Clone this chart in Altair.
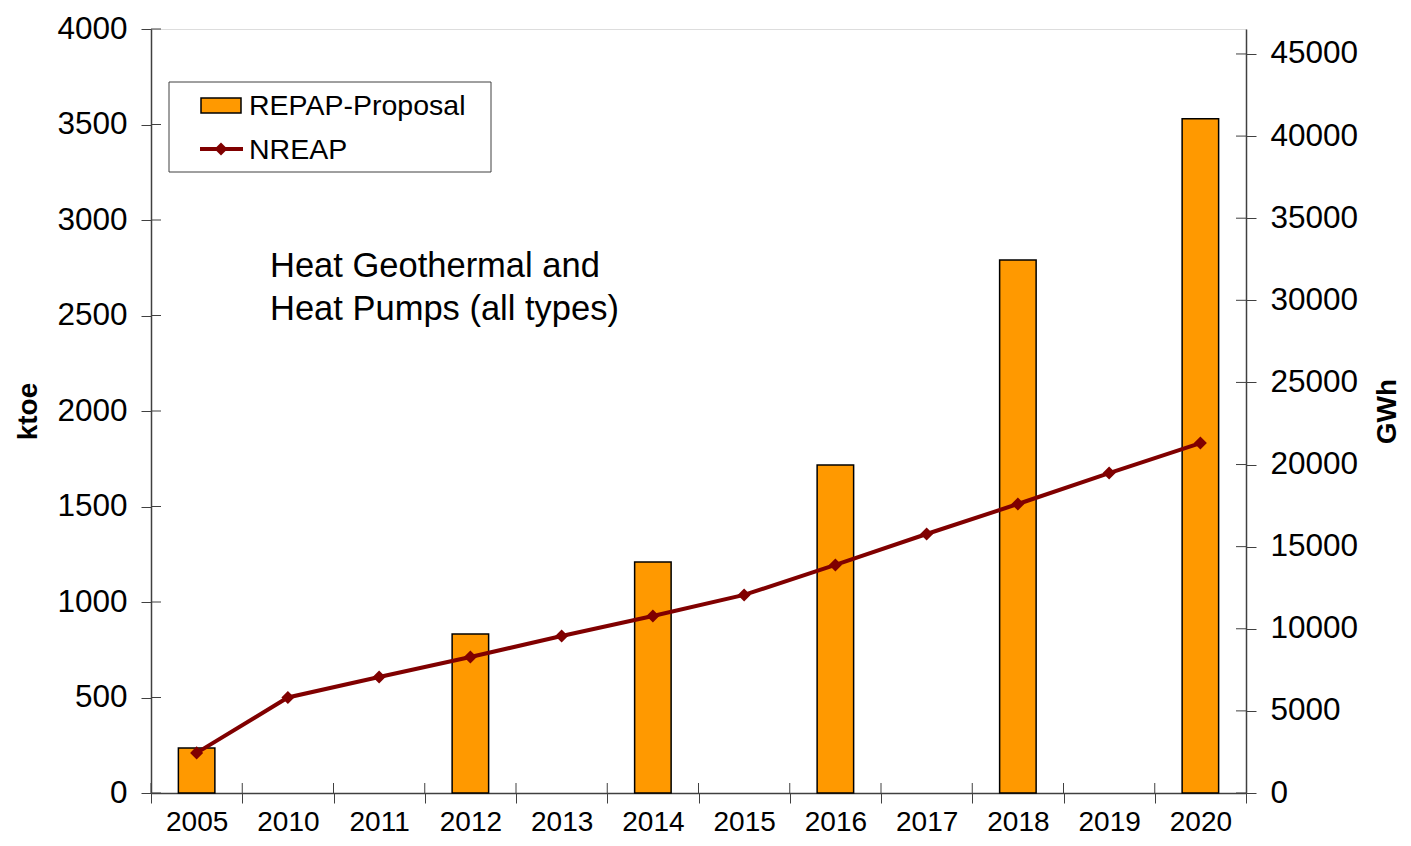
import altair as alt
import pandas as pd

# ---- data ----
years = ["2005", "2010", "2011", "2012", "2013", "2014", "2015", "2016", "2017", "2018", "2019", "2020"]
nreap_ktoe = [210, 500, 607, 712, 822, 927, 1037, 1194, 1356, 1513, 1675, 1832]
bar_years = ["2005", "2012", "2014", "2016", "2018", "2020"]
repap_ktoe = [236, 832, 1210, 1717, 2790, 3530]
left_ticks = [0, 500, 1000, 1500, 2000, 2500, 3000, 3500, 4000]
right_ticks = [0, 5000, 10000, 15000, 20000, 25000, 30000, 35000, 40000, 45000]
KTOE_TO_GWH = 11.63

bar_df = pd.DataFrame({"year": bar_years, "ktoe": repap_ktoe})
line_df = pd.DataFrame({"year": years, "ktoe": nreap_ktoe})
lt_df = pd.DataFrame({"v": left_ticks})
rt_df = pd.DataFrame({"v": right_ticks})
yr_df = pd.DataFrame({"year": years})
one = pd.DataFrame({"k": [0]})

FONT = "Liberation Sans"
ORANGE = "#FF9900"
MAROON = "#800000"
AX = "#404040"
W, H = 1095, 764

xscale = alt.Scale(domain=years, paddingInner=0, paddingOuter=0)
xaxis = alt.Axis(title=None, tickBand="extent", labelAngle=0, labelFontSize=28,
                 labelColor="black", labelFont=FONT, tickSize=10, tickColor=AX,
                 domainColor=AX, domainWidth=1.5, labelPadding=5, grid=False)
yscale = alt.Scale(domain=[0, 4000], nice=False, zero=True)
yaxis = alt.Axis(title="ktoe", values=left_ticks, format="d", labelFontSize=31.5,
                 labelFont=FONT, labelColor="black", tickSize=10, tickColor=AX,
                 domainColor=AX, domainWidth=1.5, labelPadding=14, grid=False,
                 titleFont=FONT, titleFontSize=28, titleFontWeight="bold", titleColor="black",
                 titlePadding=14)

bars = alt.Chart(bar_df).mark_bar(
    color=ORANGE, stroke="black", strokeWidth=1.5, width=alt.RelativeBandSize(0.4)
).encode(
    x=alt.X("year:N", scale=xscale, axis=xaxis),
    y=alt.Y("ktoe:Q", scale=yscale, axis=yaxis),
)

line = alt.Chart(line_df).mark_line(color=MAROON, strokeWidth=4).encode(
    x=alt.X("year:N", scale=xscale),
    y=alt.Y("ktoe:Q", scale=yscale),
)
points = alt.Chart(line_df).mark_point(
    shape="diamond", filled=True, color=MAROON, size=170, opacity=1
).encode(
    x=alt.X("year:N", scale=xscale),
    y=alt.Y("ktoe:Q", scale=yscale),
)

# inner halves of the crossing axis ticks
lt_in = alt.Chart(lt_df).mark_rule(color=AX, strokeWidth=1).encode(
    y=alt.Y("v:Q", scale=yscale), x=alt.value(0), x2=alt.value(10))
xt_in = alt.Chart(yr_df).mark_rule(color=AX, strokeWidth=1).encode(
    x=alt.X("year:N", scale=xscale, bandPosition=0), y=alt.value(H - 10), y2=alt.value(H))

annot = alt.Chart(one).mark_text(
    text=["Heat Geothermal and", "Heat Pumps (all types)"], font=FONT, fontSize=34.5,
    align="left", baseline="alphabetic", lineHeight=43, color="black"
).encode(x=alt.value(119), y=alt.value(248))

# legend (decorative)
leg_box = alt.Chart(one).mark_rect(fill="white", stroke=AX, strokeWidth=1).encode(
    x=alt.value(18), x2=alt.value(340), y=alt.value(53), y2=alt.value(143))
leg_rect = alt.Chart(one).mark_rect(fill=ORANGE, stroke="black", strokeWidth=1.5).encode(
    x=alt.value(50), x2=alt.value(90), y=alt.value(69), y2=alt.value(84))
leg_line = alt.Chart(one).mark_rule(color=MAROON, strokeWidth=4).encode(
    x=alt.value(49), x2=alt.value(92), y=alt.value(120))
leg_pt = alt.Chart(one).mark_point(shape="diamond", filled=True, color=MAROON, size=170, opacity=1).encode(
    x=alt.value(70), y=alt.value(120))
leg_t1 = alt.Chart(one).mark_text(text="REPAP-Proposal", font=FONT, fontSize=28.5, align="left",
                                  baseline="middle", color="black").encode(x=alt.value(98), y=alt.value(77))
leg_t2 = alt.Chart(one).mark_text(text="NREAP", font=FONT, fontSize=28.5, align="left",
                                  baseline="middle", color="black").encode(x=alt.value(98), y=alt.value(121))

left = alt.layer(bars, line, points, lt_in, xt_in, annot,
                 leg_box, leg_rect, leg_line, leg_pt, leg_t1, leg_t2)

rscale = alt.Scale(domain=[0, 4000 * KTOE_TO_GWH], nice=False)
right_axis = alt.Chart(rt_df).mark_rule(color=AX, strokeWidth=1).encode(
    y=alt.Y("v:Q", scale=rscale,
            axis=alt.Axis(orient="right", title="GWh", values=right_ticks, format="d",
                          labelFontSize=31.5, labelFont=FONT, labelColor="black", tickSize=10,
                          tickColor=AX, domainColor=AX, domainWidth=1.5,
                          labelPadding=14, grid=False, titleFont=FONT, titleFontSize=28,
                          titleFontWeight="bold", titleColor="black", titleAngle=270,
                          titleBaseline="top", titlePadding=16)),
    x=alt.value(W - 10), x2=alt.value(W),
)

chart = alt.layer(left, right_axis).resolve_scale(y="independent").properties(
    width=W, height=H,
    autosize=alt.AutoSizeParams(type="none"),
    padding={"left": 143, "top": 21, "right": 157, "bottom": 45},
).configure_view(stroke="#808080", strokeWidth=1.5).configure(background="white")

chart.save("out.html", embed_options={"renderer": "svg", "actions": False})
